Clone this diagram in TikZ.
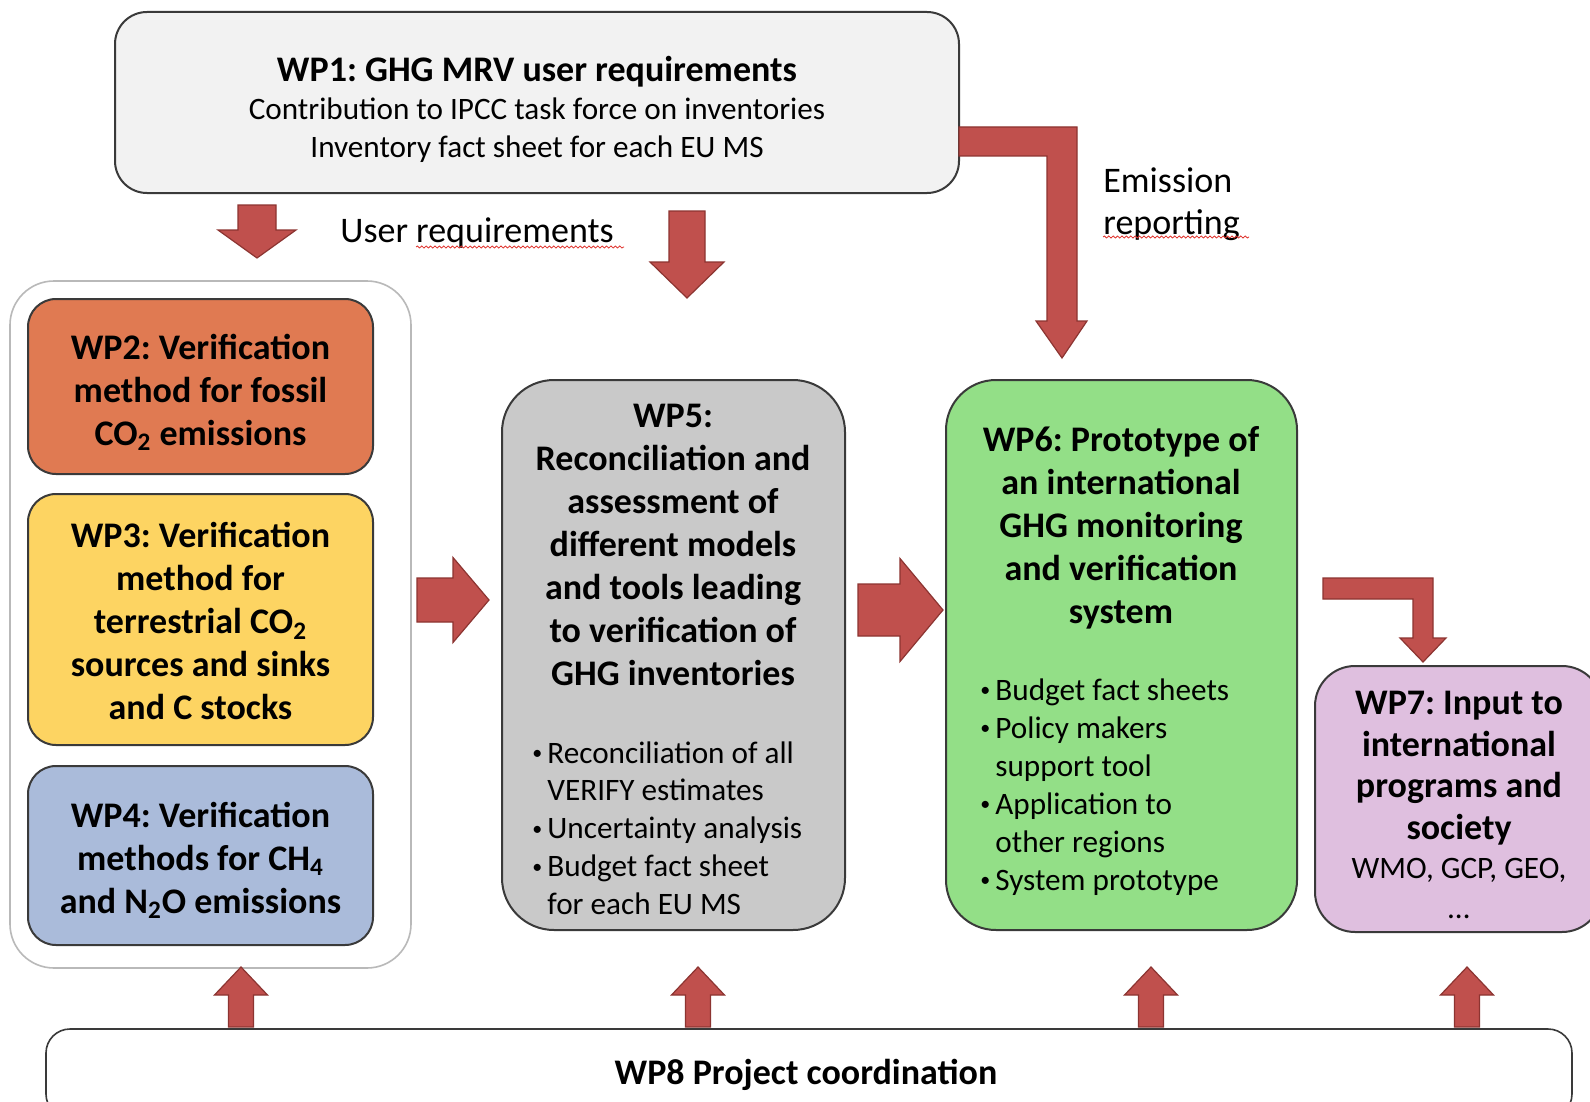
\documentclass[tikz,border=0pt]{standalone}
\usepackage{fontspec}
\setmainfont{Carlito}
\frenchspacing
\usetikzlibrary{positioning,fit,decorations.pathmorphing}

\definecolor{wpone}{HTML}{F2F2F2}
\definecolor{wptwo}{HTML}{E07A52}
\definecolor{wpthree}{HTML}{FDD462}
\definecolor{wpfour}{HTML}{AABBDA}
\definecolor{wpfive}{HTML}{C9C9C9}
\definecolor{wpsix}{HTML}{93DF87}
\definecolor{wpseven}{HTML}{DFBFDF}
\definecolor{arrowred}{HTML}{C0504D}
\definecolor{arrowedge}{HTML}{8C3431}
\definecolor{boxedge}{HTML}{3A3A3A}
\definecolor{spellred}{HTML}{E0302A}

\tikzset{
  wpbox/.style = {draw = boxedge, line width = 1pt, inner sep = 0pt, rounded corners = 14pt},
  wptitle/.style = {font = \fontsize{18}{21.5}\selectfont\bfseries, align = center, inner sep = 0pt},
  wpnote/.style = {font = \fontsize{15.6}{19}\selectfont, align = left, inner sep = 0pt},
  blockarrow/.style = {fill = arrowred, draw = arrowedge, line width = 0.6pt},
  spell/.style = {draw = spellred, line width = 0.4pt, decorate,
    decoration = {snake, amplitude = 0.5pt, segment length = 2.2pt}}
}

\newcommand{\wpbullet}{\makebox[8pt][l]{\hspace{0.5pt}\raisebox{1.6pt}{\fontsize{10}{10}\selectfont\textbullet}}}
\newcommand{\wpindent}{\hspace*{8pt}}
% block arrows: centre, start, head base, tip, half shaft, half head
\newcommand{\vblock}[6]{\filldraw[blockarrow] (#1-#5,#2) -- (#1-#5,#3) -- (#1-#6,#3) -- (#1,#4) -- (#1+#6,#3) -- (#1+#5,#3) -- (#1+#5,#2) -- cycle;}
\newcommand{\hblock}[6]{\filldraw[blockarrow] (#2,#1-#5) -- (#3,#1-#5) -- (#3,#1-#6) -- (#4,#1) -- (#3,#1+#6) -- (#3,#1+#5) -- (#2,#1+#5) -- cycle;}

\begin{document}
\begin{tikzpicture}[x = 0.5pt, y = -0.5pt]
\clip (0,0) rectangle (1590,1102);
\fill[white] (0,0) rectangle (1590,1102);

% WP1
\node[wpbox, fill = wpone, rounded corners = 16pt, fit = {(115,12) (959,193)}] (wp1) {};
\node[wptitle, anchor = north] (wp1title) at (537,56) {WP1: GHG MRV user requirements};
\node[wpnote, font = \fontsize{15.6}{19.25}\selectfont, align = center, anchor = north] (wp1note) at (537,97)
  {Contribution to IPCC task force on inventories\\Inventory fact sheet for each EU MS};

% left group
\node[draw = gray!55, line width = 0.8pt, rounded corners = 22pt, inner sep = 0pt, fit = {(10,281) (411,968)}] (group) {};
\node[wpbox, fill = wptwo, fit = {(28,299) (373,474)}] (wp2) {};
\node[wptitle] (wp2text) at ([yshift=-2.9pt]wp2.center)
  {WP2: Verification\\method for fossil\\CO\textsubscript{2} emissions};
\node[wpbox, fill = wpthree, fit = {(28,494) (373,745)}] (wp3) {};
\node[wptitle] (wp3text) at ([yshift=-0.9pt]wp3.center)
  {WP3: Verification\\method for\\terrestrial CO\textsubscript{2}\\sources and sinks\\and C stocks};
\node[wpbox, fill = wpfour, fit = {(28,766) (373,945)}] (wp4) {};
\node[wptitle] (wp4text) at ([yshift=-2.4pt]wp4.center)
  {WP4: Verification\\methods for CH\textsubscript{4}\\and N\textsubscript{2}O emissions};

% WP5
\node[wpbox, fill = wpfive, rounded corners = 26pt, fit = {(502,380) (845,930)}] (wp5) {};
\node[wptitle, anchor = north] (wp5title) at (673,404)
  {WP5:\\Reconciliation and\\assessment of\\different models\\and tools leading\\to verification of\\GHG inventories};
\node[wpnote, font = \fontsize{15.6}{18.9}\selectfont, anchor = north west] (wp5list) at (531,741)
  {\wpbullet Reconciliation of all\\\wpindent VERIFY estimates\\\wpbullet Uncertainty analysis\\\wpbullet Budget fact sheet\\\wpindent for each EU MS};

% WP6
\node[wpbox, fill = wpsix, rounded corners = 25pt, fit = {(946,380) (1297,930)}] (wp6) {};
\node[wptitle, anchor = north] (wp6title) at (1121,426)
  {WP6: Prototype of\\an international\\GHG monitoring\\and verification\\system};
\node[wpnote, anchor = north west] (wp6list) at (979,678)
  {\wpbullet Budget fact sheets\\\wpbullet Policy makers\\\wpindent support tool\\\wpbullet Application to\\\wpindent other regions\\\wpbullet System prototype};

% WP7
\node[wpbox, fill = wpseven, rounded corners = 20pt, fit = {(1315,666) (1602,932)}] (wp7) {};
\node[wptitle, font = \fontsize{18}{20.8}\selectfont\bfseries, anchor = north] (wp7title) at (1459,691)
  {WP7: Input to\\international\\programs and\\society};
\node[wpnote, font = \fontsize{15.6}{20}\selectfont, align = center, anchor = north] (wp7note) at (1459,858)
  {WMO, GCP, GEO,\\\ldots};

% WP8
\node[wpbox, line width = 0.8pt, rounded corners = 12pt, fit = {(46,1029) (1572,1118)}] (wp8) {};
\node[wptitle, anchor = base] (wp8title) at (806,1084) {WP8 Project coordination};

% labels
\node[font = \fontsize{18}{21}\selectfont, inner sep = 0pt, anchor = base west] (userreq) at (340,242) {User requirements};
\node[font = \fontsize{18}{21}\selectfont, align = left, inner sep = 0pt, anchor = north west] (emission) at (1103,167) {Emission\\reporting};
\draw[spell] (416,247) -- (624,247);
\draw[spell] (1103,237) -- (1249,237);

% arrows
\vblock{257}{205}{230}{258}{19}{39}
\vblock{687}{211}{262}{298}{18}{37}
\filldraw[blockarrow] (959,127) -- (1077,127) -- (1077,321) -- (1087,321) -- (1062,358)
  -- (1036,321) -- (1047,321) -- (1047,156) -- (959,156) -- cycle;
\hblock{600}{417}{453}{489}{22}{42.5}
\hblock{610}{858}{900}{943}{26}{51.5}
\filldraw[blockarrow] (1323,578) -- (1433,578) -- (1433,638) -- (1446,638) -- (1423,662)
  -- (1400,638) -- (1413,638) -- (1413,599) -- (1323,599) -- cycle;
\foreach \ax in {241,698,1151,1467} {
  \vblock{\ax}{1027}{995}{967}{12.5}{26.5}
}
\end{tikzpicture}
\end{document}
